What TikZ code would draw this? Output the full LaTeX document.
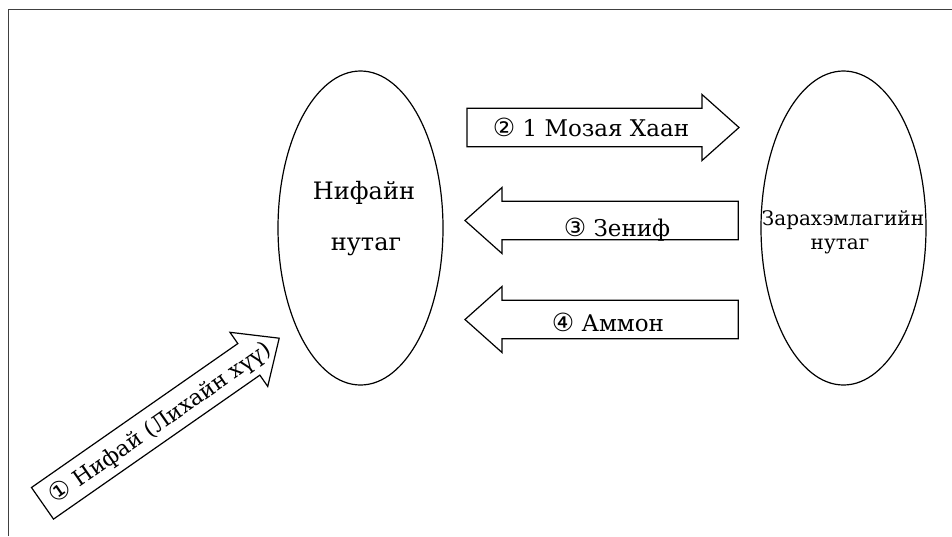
\documentclass[tikz,border=0pt]{standalone}
\usepackage{fontspec}
\setmainfont{DejaVu Serif}
\newfontfamily\circfont{DejaVu Sans}
\usetikzlibrary{shapes.geometric}
\definecolor{framegray}{HTML}{404040}
\tikzset{
  arrowline/.style={draw=black, line width=1.2pt, line join=miter, fill=white},
  region/.style={draw=black, line width=1.2pt, ellipse, minimum width=165pt, minimum height=314pt, inner sep=0pt},
  lbl/.style={font=\fontsize{23}{27}\selectfont, inner sep=0pt},
  diagl/.style={font=\fontsize{22}{26}\selectfont, inner sep=0pt},
  bigl/.style={font=\fontsize{24}{28}\selectfont, inner sep=0pt},
  smalll/.style={font=\fontsize{20}{24}\selectfont, inner sep=0pt},
  pics/blockarrow/.style={code={
    \draw[arrowline] (0,-19.25) -- (#1-37,-19.25) -- (#1-37,-33) -- (#1,0) -- (#1-37,33) -- (#1-37,19.25) -- (0,19.25) -- cycle;
  }},
}
\newcommand{\cnum}[1]{{\circfont\fontsize{25}{28}\selectfont #1}}
\begin{document}
\begin{tikzpicture}[x=1pt, y=-1pt]
\useasboundingbox (0,0) rectangle (952,536);
\draw[framegray, line width=1.5pt] (8.5,536) -- (8.5,9.5) -- (952,9.5);

\node[region] (nifai) at (360.5,228) {};
\node[region] (zara) at (843.5,228) {};

\node[bigl, anchor=base] (nifaiA) at (364,199) {Нифайн};
\node[bigl, anchor=base] (nifaiB) at (366,250) {нутаг};
\node[smalll, anchor=base] (zaraA) at (843,225) {Зарахэмлагийн};
\node[smalll, anchor=base] (zaraB) at (840,249) {нутаг};

\pic (a1) [rotate=34.9] at (42.5,503.3) {blockarrow=288.6};
\pic (a2) at (467,127.5) {blockarrow=272};
\pic (a3) [rotate=180] at (738.3,220.5) {blockarrow=273.3};
\pic (a4) [rotate=180] at (738.3,319.5) {blockarrow=273.3};

\node[diagl, rotate=34.9] (t1) at (160,423) {\cnum{①} Нифай (Лихайн хүү)};
\node[lbl, anchor=base] (t2) at (591,136) {\cnum{②} 1 Мозая Хаан};
\node[lbl, anchor=base] (t3) at (617,236) {\cnum{③} Зениф};
\node[lbl, anchor=base] (t4) at (608,331) {\cnum{④} Аммон};
\end{tikzpicture}
\end{document}
